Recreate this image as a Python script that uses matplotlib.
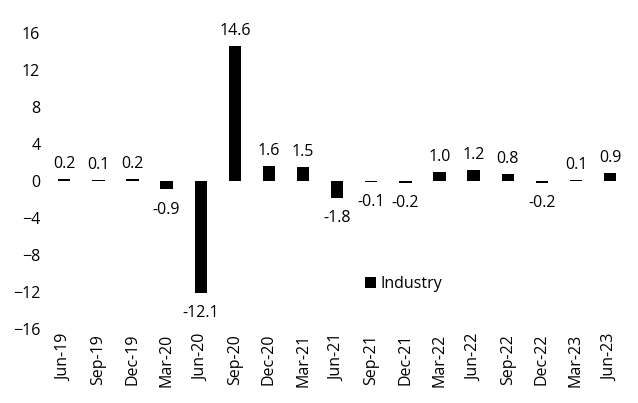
import matplotlib.pyplot as plt
import numpy as np

plt.rcParams['font.family'] = ['Open Sans', 'DejaVu Sans']

quarters = ['Jun-19', 'Sep-19', 'Dec-19', 'Mar-20', 'Jun-20', 'Sep-20', 'Dec-20',
            'Mar-21', 'Jun-21', 'Sep-21', 'Dec-21', 'Mar-22', 'Jun-22', 'Sep-22',
            'Dec-22', 'Mar-23', 'Jun-23']
industry = [0.2, 0.1, 0.2, -0.9, -12.1, 14.6, 1.6, 1.5, -1.8, -0.1, -0.2,
            1.0, 1.2, 0.8, -0.2, 0.1, 0.9]

fig = plt.figure(figsize=(6.38, 4.03), dpi=100)
ax = fig.add_axes([0.074, 0.184, 0.909, 0.734])

x = np.arange(len(quarters))
ax.bar(x, industry, width=0.36, color='black', label='Industry')

fs = 11.5
for xi, v in zip(x, industry):
    if v >= 0:
        ax.annotate(f'{v:.1f}', (xi, v), xytext=(0, 5), textcoords='offset points',
                    ha='center', va='bottom', fontsize=fs)
    else:
        ax.annotate(f'{v:.1f}', (xi, v), xytext=(0, -9), textcoords='offset points',
                    ha='center', va='top', fontsize=fs)

ax.set_xlim(-0.5, len(quarters) - 0.5)
ax.set_ylim(-16, 16)
ax.set_yticks(np.arange(-16, 17, 4))
ax.set_xticks(x)
ax.set_xticklabels(quarters, rotation=90)
ax.tick_params(axis='both', length=0, labelsize=fs)
ax.tick_params(axis='y', pad=5)
for s in ax.spines.values():
    s.set_visible(False)

ax.legend(loc='center', bbox_to_anchor=(0.615, 0.15), frameon=False, fontsize=fs,
          handlelength=0.7, handleheight=0.7, handletextpad=0.3)

fig.savefig('out.png', dpi=100)
